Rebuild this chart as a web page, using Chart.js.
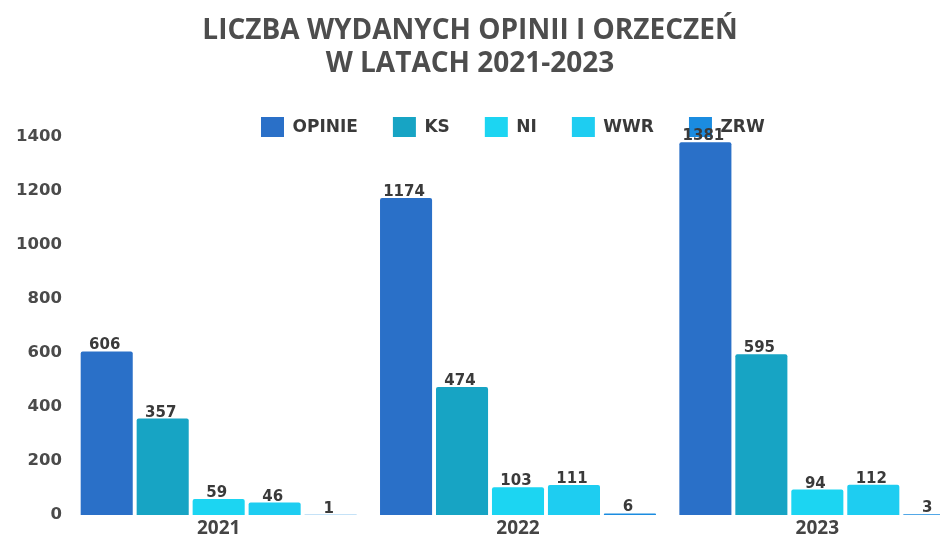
<!DOCTYPE html>
<html>
<head>
<meta charset="utf-8">
<script src="https://cdn.jsdelivr.net/npm/chart.js@4"></script>
<style>
  html, body { margin: 0; padding: 0; background: #ffffff; overflow: hidden; width: 940px; height: 538px; }
  #wrap { position: relative; width: 967px; height: 538px; }
</style>
</head>
<body>
<div id="wrap"><canvas id="c"></canvas></div>
<script>
const titleLines = ['LICZBA WYDANYCH OPINII I ORZECZEŃ', 'W LATACH 2021-2023'];
const categories = ['2021', '2022', '2023'];
const seriesNames = ['OPINIE', 'KS', 'NI', 'WWR', 'ZRW'];
const opinie = [606, 1174, 1381];
const ks = [357, 474, 595];
const ni = [59, 103, 94];
const wwr = [46, 111, 112];
const zrw = [1, 6, 3];
const yTicks = [0, 200, 400, 600, 800, 1000, 1200, 1400];

const colors = ['#2a70c8', '#17a4c4', '#1cd5f2', '#1ecdf1', '#1b8ce0'];
const seriesValues = [opinie, ks, ni, wwr, zrw];

const FONT = "'Open Sans', 'Noto Sans', sans-serif";
const WIDE = "'DejaVu Sans', sans-serif";

const valueLabels = {
  id: 'valueLabels',
  afterDatasetsDraw(chart) {
    const ctx = chart.ctx;
    ctx.save();
    ctx.font = `700 15px ${WIDE}`;
    ctx.fillStyle = '#3a3a3a';
    ctx.textAlign = 'center';
    ctx.textBaseline = 'alphabetic';
    chart.data.datasets.forEach((ds, di) => {
      const meta = chart.getDatasetMeta(di);
      meta.data.forEach((bar, i) => {
        ctx.fillText(String(ds.data[i]), bar.x - 2, bar.y - 2);
      });
    });
    ctx.restore();
  }
};

const placeBlocks = {
  id: 'placeBlocks',
  beforeInit(chart) {
    const lg = chart.legend;
    if (lg) {
      const fit = lg.fit;
      lg.fit = function () { fit.call(this); this.height = 55; };
    }
  },
  afterLayout(chart) {
    const t = chart.titleBlock;
    if (t) { t.left -= 13.5; t.right -= 13.5; }
    const lg = chart.legend;
    if (lg) { const w = lg.right - lg.left; lg.left = 226; lg.right = 226 + w; }
  }
};

new Chart(document.getElementById('c'), {
  type: 'bar',
  data: {
    labels: categories,
    datasets: seriesNames.map((name, k) => ({
      label: name,
      data: seriesValues[k],
      backgroundColor: colors[k],
      borderWidth: 0,
      borderRadius: 2,
      categoryPercentage: 0.935,
      barPercentage: 0.93
    }))
  },
  options: {
    responsive: true,
    maintainAspectRatio: false,
    animation: false,
    layout: { padding: { top: 15, left: 0, right: 0, bottom: 0 } },
    plugins: {
      title: {
        display: true,
        text: titleLines,
        color: '#4d4d4d',
        font: { family: FONT, size: 28, weight: 'bold', lineHeight: '33px' },
        padding: { top: 0, bottom: 1 }
      },
      legend: {
        display: true,
        position: 'top',
        align: 'start',
        labels: {
          boxWidth: 23,
          boxHeight: 21,
          padding: 35,
          color: '#3a3a3a',
          font: { family: WIDE, size: 17, weight: 'bold' }
        }
      },
      tooltip: { enabled: false }
    },
    scales: {
      x: {
        afterFit(scale) { scale.height = 23; },
        grid: { display: false, drawTicks: false },
        border: { display: false },
        ticks: {
          color: '#444444',
          padding: 3,
          font: { family: FONT, size: 19, weight: 'bold', lineHeight: 1.1 }
        }
      },
      y: {
        min: 0,
        max: 1400,
        afterBuildTicks(scale) { scale.ticks = yTicks.map(v => ({ value: v })); },
        afterFit(scale) { scale.width = 69; },
        grid: { display: false, drawTicks: false },
        border: { display: false },
        ticks: {
          color: '#4a4a4a',
          padding: 7,
          callback: (v) => String(v),
          font: { family: WIDE, size: 16.5, weight: 'bold' }
        }
      }
    }
  },
  plugins: [valueLabels, placeBlocks]
});
</script>
</body>
</html>
